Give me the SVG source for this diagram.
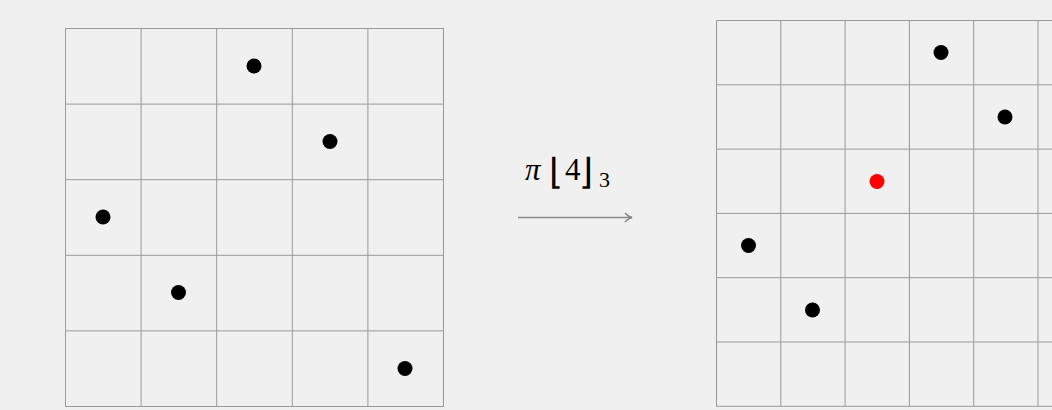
<svg xmlns="http://www.w3.org/2000/svg" width="1052" height="410" viewBox="0 0 1052 410">
<style>
.bg{fill:#f0f0f0}
.grid{fill:none;stroke:#999;stroke-width:1}
.dot{fill:#000}
.red{fill:#ff0000}
.lbl{font-family:"Liberation Serif","DejaVu Serif",serif;fill:#000;font-size:31px}
.br{font-family:"DejaVu Sans",sans-serif;font-size:36px;font-weight:200}
.arr{stroke:#888;stroke-width:1.5;fill:none}
</style>
<defs>
<marker id="ah" markerWidth="12" markerHeight="12" refX="10" refY="6" orient="auto" markerUnits="userSpaceOnUse">
<path d="M3,1.5 Q6,5 10,6 Q6,7 3,10.5" fill="none" stroke="#888" stroke-width="1.5"/>
</marker>
</defs>
<rect class="bg" x="0" y="0" width="1052" height="410"/>
<g id="left-grid">
<rect class="grid" x="65.5" y="28.5" width="378" height="378"/>
<path class="grid" d="M141.1,28.5V406.5M216.7,28.5V406.5M292.3,28.5V406.5M367.9,28.5V406.5M65.5,104.1H443.5M65.5,179.7H443.5M65.5,255.3H443.5M65.5,330.9H443.5"/>
<circle class="dot" cx="254" cy="66" r="7.5"/>
<circle class="dot" cx="330" cy="141.5" r="7.5"/>
<circle class="dot" cx="103" cy="217" r="7.5"/>
<circle class="dot" cx="178.5" cy="292.5" r="7.5"/>
<circle class="dot" cx="405" cy="368.5" r="7.5"/>
</g>
<g id="right-grid">
<path class="grid" d="M716.5,20.5H1060M716.5,84.8H1060M716.5,149.1H1060M716.5,213.4H1060M716.5,277.7H1060M716.5,342H1060M716.5,406.3H1060M716.5,20.5V406.3M780.8,20.5V406.3M845.1,20.5V406.3M909.4,20.5V406.3M973.7,20.5V406.3M1038,20.5V406.3"/>
<circle class="dot" cx="941" cy="52.5" r="7.5"/>
<circle class="dot" cx="1005" cy="117" r="7.5"/>
<circle class="red" cx="877" cy="181.5" r="7.5"/>
<circle class="dot" cx="748.5" cy="245.5" r="7.5"/>
<circle class="dot" cx="812.5" cy="310" r="7.5"/>
</g>
<g id="connectors">
<line class="arr" x1="518" y1="217.5" x2="632" y2="217.5" marker-end="url(#ah)"/>
</g>
<g id="label">
<text class="lbl" y="180"><tspan x="525" style="font-style:italic">π</tspan><tspan class="br" x="549" y="184">⌊</tspan><tspan x="565" y="180">4</tspan><tspan class="br" x="579" y="184">⌋</tspan><tspan x="599" y="187" style="font-size:22px">3</tspan></text>
</g>
</svg>
